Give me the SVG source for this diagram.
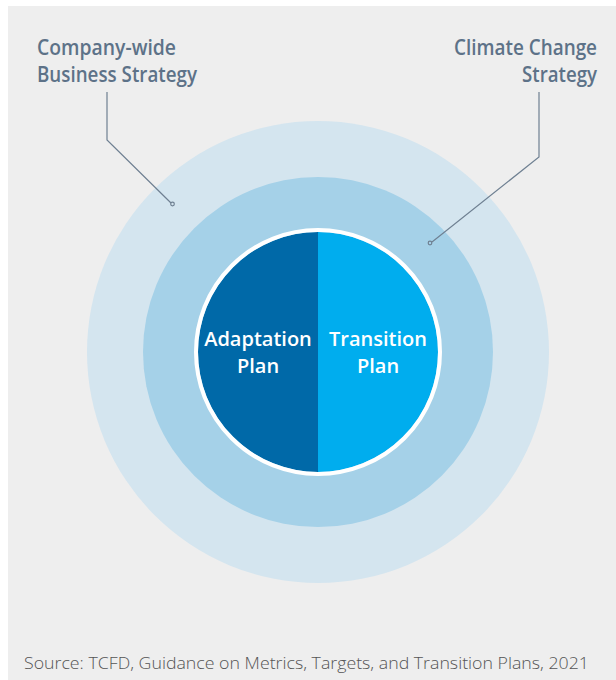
<svg xmlns="http://www.w3.org/2000/svg" width="616" height="680" viewBox="0 0 616 680">
<style>
.lbl{font-family:"Open Sans","Liberation Sans",sans-serif;font-weight:600;font-size:21px;fill:#5d7288}
.in{font-family:"Open Sans","Liberation Sans",sans-serif;font-weight:600;font-size:20px;fill:#ffffff;text-anchor:middle}
.src{font-family:"Open Sans","Liberation Sans",sans-serif;font-weight:300;font-size:16px;fill:#555555}
.lead{fill:none;stroke:#6f8092;stroke-width:1.2}
.dot{fill:none;stroke:#6f8092;stroke-width:1.2}
</style>
<rect width="616" height="680" fill="#ffffff"/>
<rect x="8" y="6" width="608" height="674" fill="#eeeeee"/>
<g id="company-strategy">
<circle cx="318" cy="352" r="231" fill="#d4e5ef"/>
</g>
<g id="climate-strategy">
<circle cx="318" cy="352" r="175" fill="#a5d1e8"/>
</g>
<g id="adaptation-plan">
<path d="M318 232 A120 120 0 0 0 318 472 Z" fill="#0069a8"/>
<text class="in" x="258" y="346">Adaptation</text>
<text class="in" x="258" y="373">Plan</text>
</g>
<g id="transition-plan">
<path d="M318 232 A120 120 0 0 1 318 472 Z" fill="#00adee"/>
<text class="in" x="378" y="346">Transition</text>
<text class="in" x="378" y="373">Plan</text>
</g>
<circle cx="318" cy="352" r="122" fill="none" stroke="#ffffff" stroke-width="4"/>
<g id="label-company">
<text class="lbl" x="37" y="55" textLength="139" lengthAdjust="spacingAndGlyphs">Company-wide</text>
<text class="lbl" x="37" y="82" textLength="160" lengthAdjust="spacingAndGlyphs">Business Strategy</text>
</g>
<g id="label-climate">
<text class="lbl" x="454" y="55" textLength="143" lengthAdjust="spacingAndGlyphs">Climate Change</text>
<text class="lbl" x="522" y="82" textLength="75" lengthAdjust="spacingAndGlyphs">Strategy</text>
</g>
<g id="connectors">
<polyline class="lead" points="107,92 107,140 171,203"/>
<circle class="dot" cx="172.5" cy="204" r="1.8"/>
<polyline class="lead" points="539,92 539,157 432,242"/>
<circle class="dot" cx="430" cy="243" r="1.8"/>
</g>
<text class="src" x="24" y="669" textLength="565" lengthAdjust="spacingAndGlyphs">Source: TCFD, Guidance on Metrics, Targets, and Transition Plans, 2021</text>
</svg>
